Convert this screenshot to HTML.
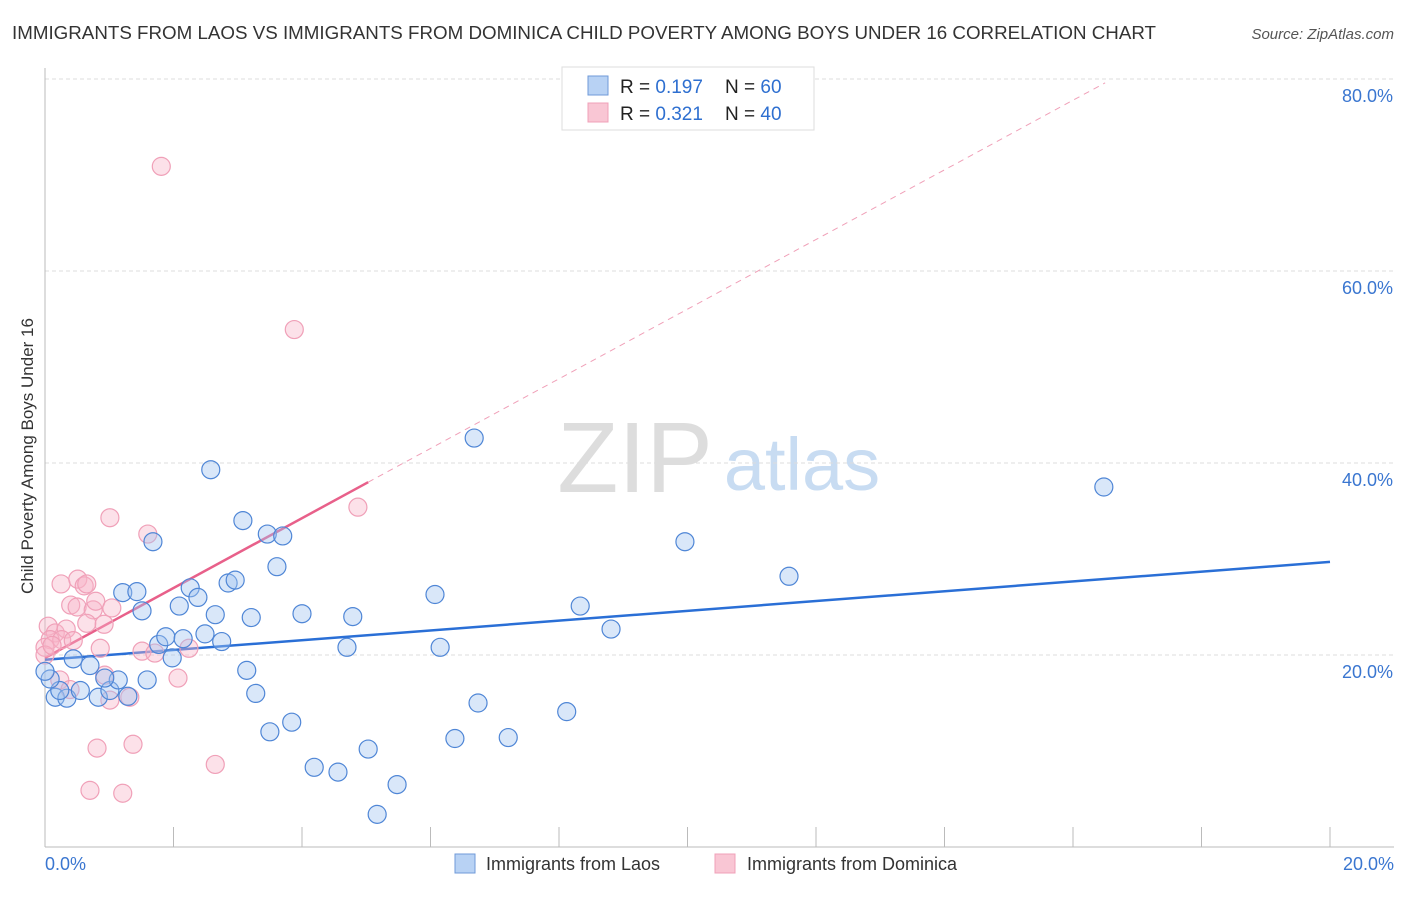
<!DOCTYPE html>
<html><head><meta charset="utf-8">
<style>
body{margin:0;background:#fff;font-family:"Liberation Sans",sans-serif;}
svg text{font-family:"Liberation Sans",sans-serif;}
</style></head>
<body>
<svg id="chart" width="1406" height="892" xmlns="http://www.w3.org/2000/svg">
<text x="12" y="39" font-size="18" fill="#333" textLength="1144" lengthAdjust="spacingAndGlyphs">IMMIGRANTS FROM LAOS VS IMMIGRANTS FROM DOMINICA CHILD POVERTY AMONG BOYS UNDER 16 CORRELATION CHART</text>
<text x="1394" y="39" font-size="15" fill="#555" text-anchor="end" font-style="italic">Source: ZipAtlas.com</text>
<text transform="translate(33,456) rotate(-90)" font-size="17" fill="#333" text-anchor="middle">Child Poverty Among Boys Under 16</text>
<g>
<text x="635" y="492" font-size="100" fill="#ddd" font-family="Liberation Serif" text-anchor="middle">ZIP</text>
<text x="802" y="490" font-size="74" fill="#c8dcf2" text-anchor="middle">atlas</text>
</g>
<g id="grid"></g>
<g id="axes"></g>
<g id="lines"></g>
<g id="points"></g>
<g>
<rect x="562" y="67" width="252" height="63" fill="#fff" stroke="#ddd"/>
<rect x="588" y="76" width="20" height="19" fill="#b8d2f4" stroke="#6f9ad8"/>
<rect x="588" y="103" width="20" height="19" fill="#f9c6d4" stroke="#f0a0b8"/>
<text x="620" y="93" font-size="19" fill="#222">R = <tspan fill="#2e6fd0">0.197</tspan></text>
<text x="725" y="93" font-size="19" fill="#222">N = <tspan fill="#2e6fd0">60</tspan></text>
<text x="620" y="120" font-size="19" fill="#222">R = <tspan fill="#2e6fd0">0.321</tspan></text>
<text x="725" y="120" font-size="19" fill="#222">N = <tspan fill="#2e6fd0">40</tspan></text>
</g>
<g>
<rect x="455" y="854" width="20" height="19" fill="#b8d2f4" stroke="#6f9ad8"/>
<text x="486" y="870" font-size="18" fill="#333">Immigrants from Laos</text>
<rect x="715" y="854" width="20" height="19" fill="#f9c6d4" stroke="#f0a0b8"/>
<text x="747" y="870" font-size="18" fill="#333">Immigrants from Dominica</text>
</g>
</svg>
<script>
const yTicks=[20,40,60,80];
const yTickLabels=["20.0%","40.0%","60.0%","80.0%"];
const xEndLabels=["0.0%","20.0%"];
const laosX=[0.16,0.34,0.23,0.55,0.44,0.70,0.83,1.01,1.14,0.93,1.29,1.21,1.43,1.51,1.68,1.59,1.77,1.88,1.98,2.09,2.15,2.26,2.38,2.49,2.65,2.75,2.58,2.85,2.96,3.08,3.14,3.21,3.28,3.46,3.50,3.61,3.70,3.84,4.00,4.19,4.56,4.70,4.79,5.03,5.17,5.48,6.07,6.15,6.38,6.68,6.74,7.21,8.12,8.33,8.81,9.96,11.58,16.48,0.08,0.00];
const laosY=[15.6,15.5,16.3,16.3,19.6,18.9,15.6,16.3,17.4,17.6,15.7,26.5,26.6,24.6,31.8,17.4,21.1,21.9,19.7,25.1,21.7,27.0,26.0,22.2,24.2,21.4,39.3,27.5,27.8,34.0,18.4,23.9,16.0,32.6,12.0,29.2,32.4,13.0,24.3,8.3,7.8,20.8,24.0,10.2,3.4,6.5,26.3,20.8,11.3,42.6,15.0,11.4,14.1,25.1,22.7,31.8,28.2,37.5,17.5,18.3];
const domX=[1.81,3.88,4.87,1.01,1.60,0.25,0.51,0.61,0.65,0.40,0.50,0.75,0.79,1.04,0.92,0.65,0.05,0.16,0.33,0.08,0.26,0.44,0.00,1.51,1.71,2.24,0.86,2.07,0.23,0.93,1.32,1.01,0.39,0.81,1.37,2.65,0.70,1.21,0.00,0.11];
const domY=[70.9,53.9,35.4,34.3,32.6,27.4,27.9,27.2,27.4,25.2,25.0,24.7,25.6,24.9,23.2,23.3,23.0,22.3,22.7,21.6,21.6,21.5,20.8,20.4,20.2,20.7,20.7,17.6,17.4,17.9,15.6,15.3,16.4,10.3,10.7,8.6,5.9,5.6,20.0,21.0];
const laosTrend=[[0,19.5],[20,29.7]];
const domTrendSolid=[[0,19.7],[5.03,38.0]];
const domTrendDash=[[5.03,38.0],[16.5,79.6]];
const NS="http://www.w3.org/2000/svg";
const X=v=>45+v/20*1285, Y=v=>847-v/20*192;
function mk(tag,attrs,parent){const e=document.createElementNS(NS,tag);for(const k in attrs)e.setAttribute(k,attrs[k]);parent.appendChild(e);return e;}
const grid=document.getElementById('grid'),axes=document.getElementById('axes'),lines=document.getElementById('lines'),pts=document.getElementById('points');
yTicks.forEach((t,i)=>{
 const l=mk('line',{x1:45,x2:1394,y1:Y(t),y2:Y(t),stroke:'#ddd','stroke-dasharray':'4,3'},grid);
 
 
 const tx=mk('text',{x:1393,y:Y(t)+23,'font-size':18,fill:'#3a76d0','text-anchor':'end'},axes);
 tx.textContent=yTickLabels[i];
 
 
});
const ax=mk('line',{x1:45,x2:45,y1:68,y2:847,stroke:'#bbb'},axes);


const bx=mk('line',{x1:45,x2:1394,y1:847,y2:847,stroke:'#bbb'},axes);


for(let i=0;i<=10;i++){
 const t=mk('line',{x1:X(i*2),x2:X(i*2),y1:827,y2:847,stroke:'#bbb'},axes);
 
 
}
[[0,'start',45],[20,'end',1394]].forEach((d,i)=>{
 const tx=mk('text',{x:d[2],y:870,'font-size':18,fill:'#3a76d0','text-anchor':d[1]},axes);
 tx.textContent=xEndLabels[i];
 
 
});
function drawPts(xs,ys,fill,stroke,name){
 xs.forEach((x,i)=>{
  const c=mk('circle',{cx:X(x),cy:Y(ys[i]),r:9,fill:fill,stroke:stroke,'stroke-width':1.2},pts);
  
  
 });
}
drawPts(domX,domY,'rgba(248,180,200,0.4)','#f0a0b8','dominica-point');
drawPts(laosX,laosY,'rgba(160,196,240,0.4)','#4f86d6','laos-point');
function line(p,stroke,w,dash,name){
 const l=mk('line',{x1:X(p[0][0]),y1:Y(p[0][1]),x2:X(p[1][0]),y2:Y(p[1][1]),stroke:stroke,'stroke-width':w},lines);
 if(dash)l.setAttribute('stroke-dasharray',dash);
 
 
}
line(domTrendDash,'#f0a0b8',1,'6,5','dominica-trend-extension');
line(domTrendSolid,'#e8608a',2.5,null,'dominica-trend-line');
line(laosTrend,'#2a6fd6',2.5,null,'laos-trend-line');
</script>
</body></html>
